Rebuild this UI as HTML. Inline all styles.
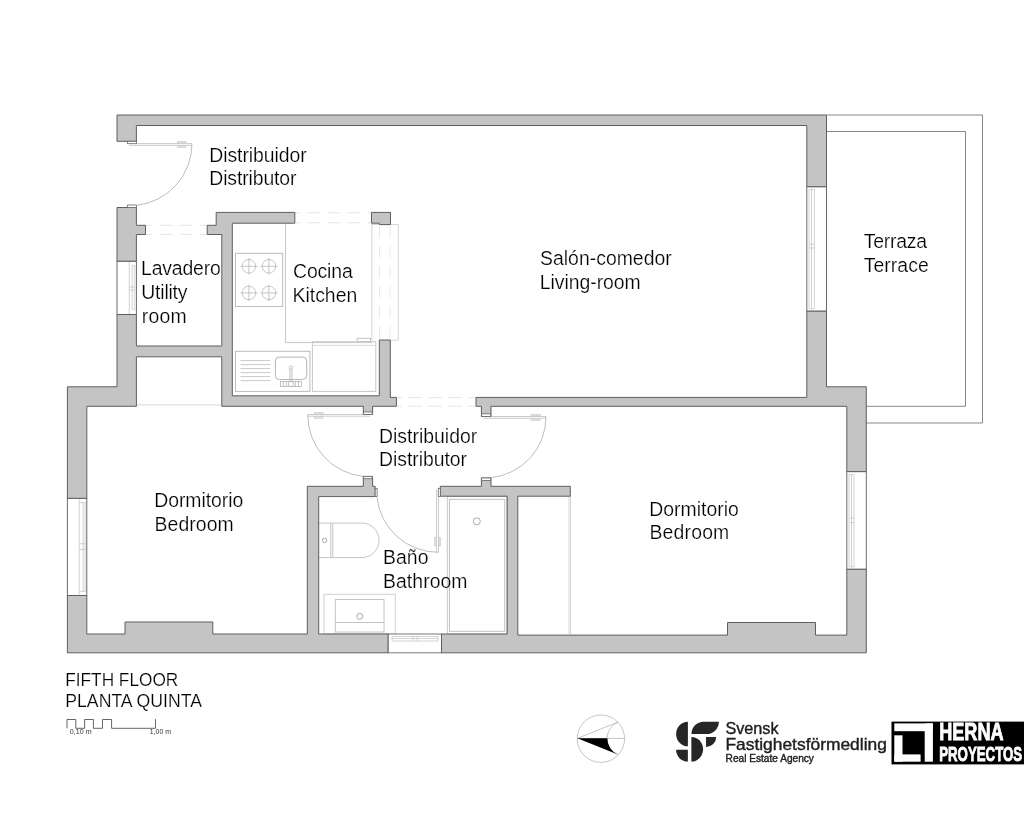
<!DOCTYPE html>
<html lang="es"><head><meta charset="utf-8"><title>Fifth floor plan</title>
<style>
html,body{margin:0;padding:0;background:#fff;}
body{width:1024px;height:819px;overflow:hidden;font-family:"Liberation Sans",sans-serif;}
svg{display:block;will-change:transform;}
text{font-family:"Liberation Sans",sans-serif;}
</style></head><body>
<svg width="1024" height="819" viewBox="0 0 1024 819">
<rect width="1024" height="819" fill="#fff"/>
<!-- ===== furniture / light lines ===== -->
<g fill="none" stroke="#c8c8c8" stroke-width="1">
  <!-- hob -->
  <rect x="235.5" y="253.3" width="47.2" height="53.2" stroke="#bcbcbc"/>
  <g stroke="#b8b8b8" stroke-width="0.8">
    <circle cx="248.9" cy="266.3" r="6.8"/><circle cx="268.9" cy="266.3" r="6.8"/>
    <circle cx="248.9" cy="292.9" r="6.8"/><circle cx="268.9" cy="292.9" r="6.8"/>
    <path d="M240.5,266.3H257.5M260.5,266.3H277.5M240.5,292.9H257.5M260.5,292.9H277.5M248.9,258V274.6M268.9,258V274.6M248.9,284.6V301.2M268.9,284.6V301.2"/>
  </g>
  <!-- counter L -->
  <path d="M285.5,223.5V342.6H371.8"/>
  <!-- light rect right of kitchen -->
  <path d="M371.8,224.5V340.2M371.8,224.5H398.3V340.2H390.5" stroke="#d4d4d4"/>
  <path d="M379.5,226V340M390,226V340" stroke="#e6e6e6" stroke-dasharray="12.5,7.5" stroke-width="0.9"/>
  <rect x="357.2" y="338.3" width="13.3" height="3.2" stroke="#c0c0c0"/>
  <!-- fridge -->
  <rect x="312.4" y="341.7" width="63.4" height="49.7"/>
  <path d="M312.4,345.4H375.8" stroke="#d8d8d8"/>
  <!-- sink unit -->
  <rect x="235.5" y="351.3" width="74.4" height="40.1" stroke="#bcbcbc"/>
  <path d="M240.5,360.6H270.4M240.5,364.6H270.4M240.5,368.6H270.4M240.5,372.6H270.4M240.5,376.6H270.4M240.5,380.6H270.4" stroke="#bdbdbd" stroke-width="0.8"/>
  <rect x="275.4" y="357.1" width="31.3" height="22.4" rx="4" stroke="#b4b4b4"/>
  <g stroke="#a8a8a8" stroke-width="0.7">
    <circle cx="290.9" cy="367.7" r="1.7"/>
    <path d="M289.9,369.4V381.2M291.9,369.4V381.2"/>
    <rect x="280.4" y="381.4" width="21.1" height="5"/>
    <path d="M283.4,381.4V386.4M286.4,381.4V386.4M295.4,381.4V386.4M298.4,381.4V386.4"/>
    <circle cx="290.9" cy="384" r="2.6" fill="#fff"/>
  </g>
  <!-- closet line -->
  <path d="M137,404.9H221.5" stroke="#cfcfcf" stroke-width="0.8"/>
  <!-- toilet -->
  <g stroke="#c4c4c4">
    <path d="M319,523.1H330.8V557.6H319"/>
    <path d="M332.8,523.1V557.6"/>
    <path d="M330.8,523.1H361.8A17.25,17.25 0 0 1 361.8,557.6H330.8"/>
    <circle cx="324.6" cy="540.4" r="2.2" stroke="#aaa"/>
  </g>
  <!-- vanity -->
  <rect x="324" y="594.3" width="71.3" height="39.5" stroke="#d0d0d0"/>
  <rect x="335.3" y="599.5" width="48.7" height="32.5" stroke="#c4c4c4"/>
  <path d="M335.3,622.5H384" stroke="#c4c4c4"/>
  <circle cx="359.8" cy="616.3" r="3" stroke="#aaa"/>
  <!-- shower -->
  <rect x="447.3" y="496.5" width="59.5" height="137.5" stroke="#c8c8c8"/>
  <rect x="449.4" y="499.3" width="55.3" height="132" stroke="#c0c0c0"/>
  <circle cx="476.8" cy="521.3" r="3.5" stroke="#aaa"/>
  <!-- wardrobe line -->
  <path d="M569,496V634M570.6,496V634" stroke="#cccccc" stroke-width="0.8"/>
  <!-- dashed thresholds -->
  <g stroke="#e2e2e2" stroke-width="0.9">
    <path d="M145.5,225.3H207M145.5,234.4H207" stroke-dasharray="12.5,7.5" stroke-dashoffset="5.3"/>
    <path d="M295,212.8H371.5M295,222.8H371.5" stroke-dasharray="12.5,7.5" stroke-dashoffset="7.6"/>
    <path d="M396.5,397.6H476M396.5,406.2H476" stroke-dasharray="13.5,6.5" stroke-dashoffset="8"/>
  </g>
</g>

<!-- ===== terrace ===== -->
<g fill="none" stroke="#878787" stroke-width="1">
  <path d="M826.5,115H982.5V423H866.3"/>
  <path d="M826.5,131.5H965.5V406.3H866.3"/>
</g>

<!-- ===== windows ===== -->
<g fill="#fff" stroke="#6a6a6a" stroke-width="1">
  <rect x="117" y="261.2" width="19.4" height="53.3"/>
  <rect x="67.4" y="498.3" width="19.4" height="97.2"/>
  <rect x="806.8" y="186.7" width="19.7" height="124.5"/>
  <rect x="846.8" y="471.6" width="19.5" height="97.7"/>
  <rect x="388" y="634" width="53.5" height="18.8" stroke="#777"/>
</g>
<g fill="none" stroke="#c6c6c6" stroke-width="0.8">
  <!-- utility window -->
  <path d="M129.3,261.5V314.3M132.2,265.6V309.6M134.7,265.6V309.6M129.3,287H134.7M129.3,290H134.7M132.2,265.6H134.7M132.2,309.6H134.7"/>
  <!-- left bedroom window -->
  <path d="M79.2,498.5V595.3M83.1,502.6V591.3M85.2,502.6V591.3M79.2,543.7H86M79.2,549.5H86M79.2,502.6H86M79.2,591.3H86"/>
  <!-- living window -->
  <path d="M809,189.5V308.7M811.5,189.5V308.7M814.4,189.5V308.7M809,244.2H814.4M809,248H814.4M809,189.5H814.4M809,308.7H814.4"/>
  <!-- right bedroom window -->
  <path d="M849,474.5V567M851.5,474.5V567M854,474.5V567M849,518H854M849,522.5H854M849,474.5H854M849,567H854"/>
  <!-- bathroom window -->
  <path d="M392,636.5H438M392,638.5H438M392,641H438M413,636.5V641M417,636.5V641M392,636.5V641M438,636.5V641"/>
</g>

<!-- ===== walls ===== -->
<path d="M117.0,115.0 L117.0,141.3 L136.4,141.3 L136.4,125.5 L806.8,125.5 L806.8,186.7 L826.5,186.7 L826.5,115.0ZM207.2,234.5 L221.8,234.5 L221.8,346.0 L136.4,346.0 L136.4,314.5 L117.0,314.5 L117.0,386.8 L67.4,386.8 L67.4,498.3 L86.8,498.3 L86.8,406.3 L136.4,406.3 L136.4,356.8 L221.8,356.8 L221.8,406.3 L363.3,406.3 L363.3,414.4 L372.6,414.4 L372.6,406.3 L396.4,406.3 L396.4,397.4 L390.3,397.4 L390.3,340.0 L379.3,340.0 L379.3,395.8 L232.3,395.8 L232.3,223.2 L294.8,223.2 L294.8,212.4 L216.2,212.4 L216.2,225.3 L207.2,225.3ZM136.4,225.3 L136.4,207.5 L117.0,207.5 L117.0,261.2 L136.4,261.2 L136.4,234.5 L145.5,234.5 L145.5,225.3ZM307.3,486.3 L307.3,634.0 L212.8,634.0 L212.8,622.0 L125.0,622.0 L125.0,634.0 L86.8,634.0 L86.8,595.5 L67.4,595.5 L67.4,652.8 L388.0,652.8 L388.0,634.0 L318.7,634.0 L318.7,496.6 L375.2,496.6 L375.2,486.3 L372.6,486.3 L372.6,476.4 L363.3,476.4 L363.3,486.3ZM390.5,212.4 L371.5,212.4 L371.5,223.2 L379.3,223.2 L379.3,224.6 L390.5,224.6ZM846.8,471.6 L866.3,471.6 L866.3,386.8 L826.5,386.8 L826.5,311.2 L806.8,311.2 L806.8,397.4 L476.0,397.4 L476.0,406.3 L481.4,406.3 L481.4,416.5 L491.0,416.5 L491.0,406.3 L846.8,406.3ZM440.3,496.2 L507.2,496.2 L507.2,634.0 L441.5,634.0 L441.5,652.8 L866.3,652.8 L866.3,569.3 L846.8,569.3 L846.8,635.1 L815.5,635.1 L815.5,622.5 L727.5,622.5 L727.5,635.1 L518.0,635.1 L518.0,634.0 L517.8,634.0 L517.8,496.2 L570.3,496.2 L570.3,486.3 L491.0,486.3 L491.0,478.0 L481.4,478.0 L481.4,486.3 L440.3,486.3Z" fill="#c4c4c4" stroke="#5e5e5e" stroke-width="1" stroke-linejoin="miter"/>

<!-- ===== door frames + doors ===== -->
<g fill="#fff" stroke="#666" stroke-width="0.8">
  <rect x="127.6" y="141.3" width="8.8" height="2.4"/>
  <rect x="127.6" y="205" width="8.8" height="2.6"/>
  <rect x="363.6" y="412" width="8.6" height="2.4"/>
  <rect x="363.6" y="476.4" width="8.6" height="2.3"/>
  <rect x="481.7" y="413.8" width="9" height="2.7"/>
  <rect x="481.7" y="478" width="9" height="2.4"/>
  <rect x="375.2" y="488.3" width="1.9" height="8.3"/>
  <rect x="438.3" y="488.3" width="2" height="8.3"/>
</g>
<g fill="none" stroke="#b4b4b4" stroke-width="0.7">
  <!-- entrance door -->
  <path d="M136.6,143.6H192M129.4,145.4H192" />
  <path d="M192,143.6A62,62 0 0 1 136.5,205.3" stroke="#a0a0a0"/>
  <!-- left bedroom door -->
  <path d="M307.8,414.5H363.4M307.8,416.2H370"/>
  <path d="M307.8,414.5A61.5,61.5 0 0 0 363.4,476.4" stroke="#a0a0a0"/>
  <!-- right bedroom door -->
  <path d="M491,416.5H546M483.5,418.3H546"/>
  <path d="M546,416.5A61,61 0 0 1 491,477.6" stroke="#a0a0a0"/>
  <!-- bathroom door -->
  <path d="M436.5,489.8V552.3M438.5,496.6V552.3"/>
  <path d="M438.5,552.3A61.5,61.5 0 0 1 376.9,496.6" stroke="#a0a0a0"/>
</g>
<g fill="#e2e2e2" stroke="#c6c6c6" stroke-width="0.5">
  <rect x="177.4" y="141.4" width="8.6" height="1.6"/><rect x="177.4" y="145.9" width="8.6" height="1.7"/>
  <rect x="314.2" y="412.4" width="8.8" height="1.7"/><rect x="314.2" y="416.6" width="8.8" height="1.7"/>
  <rect x="531" y="414.2" width="9.3" height="1.7"/><rect x="531" y="418.9" width="9.3" height="1.7"/>
  <rect x="434.4" y="537.6" width="1.8" height="8.3"/><rect x="438.9" y="537.6" width="1.8" height="8.3"/>
</g>

<!-- ===== labels ===== -->
<g fill="#000" stroke="#fff" stroke-width="0.22">
  <text x="209.25" y="161.5" font-size="19.4" textLength="97.5">Distribuidor</text>
  <text x="209.25" y="185.1" font-size="19.4" textLength="87.25">Distributor</text>
  <text x="141.0" y="275.3" font-size="19.4" textLength="79.75">Lavadero</text>
  <text x="141.25" y="298.9" font-size="19.4" textLength="46.25">Utility</text>
  <text x="141.75" y="322.6" font-size="19.4" textLength="45.0">room</text>
  <text x="293.0" y="277.5" font-size="19.4" textLength="59.75">Cocina</text>
  <text x="292.5" y="301.5" font-size="19.4" textLength="64.75">Kitchen</text>
  <text x="540.0" y="265.2" font-size="19.4" textLength="131.75">Salón-comedor</text>
  <text x="539.75" y="288.6" font-size="19.4" textLength="101.0">Living-room</text>
  <text x="863.75" y="247.9" font-size="19.4" textLength="63.25">Terraza</text>
  <text x="863.75" y="271.7" font-size="19.4" textLength="65.0">Terrace</text>
  <text x="379.0" y="442.6" font-size="19.4" textLength="98.25">Distribuidor</text>
  <text x="379.0" y="466.2" font-size="19.4" textLength="88.0">Distributor</text>
  <text x="154.25" y="507.4" font-size="19.4" textLength="89.0">Dormitorio</text>
  <text x="154.5" y="531.0" font-size="19.4" textLength="79.25">Bedroom</text>
  <text x="383.0" y="563.8" font-size="19.4" textLength="45.5">Baño</text>
  <text x="383.0" y="587.8" font-size="19.4" textLength="84.5">Bathroom</text>
  <text x="649.25" y="515.7" font-size="19.4" textLength="89.5">Dormitorio</text>
  <text x="649.5" y="539.2" font-size="19.4" textLength="79.75">Bedroom</text>
  <text x="65.25" y="685.5" font-size="18.9" textLength="113.0" lengthAdjust="spacingAndGlyphs">FIFTH FLOOR</text>
  <text x="65.25" y="706.5" font-size="18.9" textLength="136.75" lengthAdjust="spacingAndGlyphs">PLANTA QUINTA</text>
</g>

<!-- scale -->
<path d="M67,728.3V719.5H75.8V728.3H84.6V719.5H93.4V728.3H102.5V719.5H111.6V728.3H155.5V719.2" fill="none" stroke="#555" stroke-width="0.9"/>
<g fill="#333" font-size="6.3">
  <text x="69.8" y="734.3" textLength="21.8" lengthAdjust="spacingAndGlyphs">0,10 m</text>
  <text x="149.8" y="734.3" textLength="21.2" lengthAdjust="spacingAndGlyphs">1,00 m</text>
</g>

<!-- ===== north arrow ===== -->
<g fill="none" stroke="#b2b2b2" stroke-width="0.75">
  <circle cx="600.9" cy="738.7" r="23.7"/>
  <path d="M577.3,738.4H624.5M577.3,738.4L618,722.1"/>
  <path d="M618,722.1A17.6,17.6 0 0 0 617.8,754.6"/>
</g>
<path d="M577.3,738.3H607.3A17.6,17.6 0 0 0 617.8,754.6Z" fill="#000"/>

<!-- ===== Svensk Fastighetsformedling logo ===== -->
<g fill="#262626">
  <path d="M687.9,721.7H687.9A11.8,12.3 0 0 0 676.1,734A11.8,12.3 0 0 0 687.9,746.3Z"/>
  <path d="M691.4,734A12.3,12.3 0 0 1 703.7,721.7H718.9A12.3,12.3 0 0 1 706.6,734Z"/>
  <path d="M691.4,737A11.7,12.3 0 0 1 691.4,761.6Z"/>
  <path d="M676.1,749.8H687.9V761.6A11.8,11.8 0 0 1 676.1,749.8Z"/>
  <path d="M706,737H716.2A10.2,9.9 0 0 1 706,746.9Z"/>
</g>
<g fill="#1e1e1e" stroke="#1e1e1e" stroke-width="0.4">
  <text x="725.4" y="733.7" font-size="16.4" textLength="53.2" lengthAdjust="spacingAndGlyphs">Svensk</text>
  <text x="725.4" y="749.7" font-size="16.4" textLength="161.5" lengthAdjust="spacingAndGlyphs">Fastighetsförmedling</text>
  <text x="725.6" y="761.9" font-size="10.4" stroke-width="0.4" textLength="88.3" lengthAdjust="spacingAndGlyphs">Real Estate Agency</text>
</g>

<!-- ===== Herna Proyectos logo ===== -->
<rect x="891.5" y="721.6" width="132.5" height="42.8" fill="#000"/>
<g fill="#fff">
  <rect x="894.3" y="723.4" width="38.6" height="7.8"/>
  <rect x="924.7" y="723.4" width="8.2" height="38.3"/>
  <rect x="894.3" y="735.3" width="8.2" height="26.4"/>
  <rect x="894.3" y="754.4" width="26.3" height="7.3"/>
</g>
<g fill="#fff" stroke="#fff" stroke-width="0.9" font-weight="bold">
  <text x="939.2" y="740.4" font-size="24.6" textLength="64.4" lengthAdjust="spacingAndGlyphs">HERNA</text>
  <text x="939.2" y="761.4" font-size="21" textLength="83" lengthAdjust="spacingAndGlyphs">PROYECTOS</text>
</g>

</svg>
</body></html>
